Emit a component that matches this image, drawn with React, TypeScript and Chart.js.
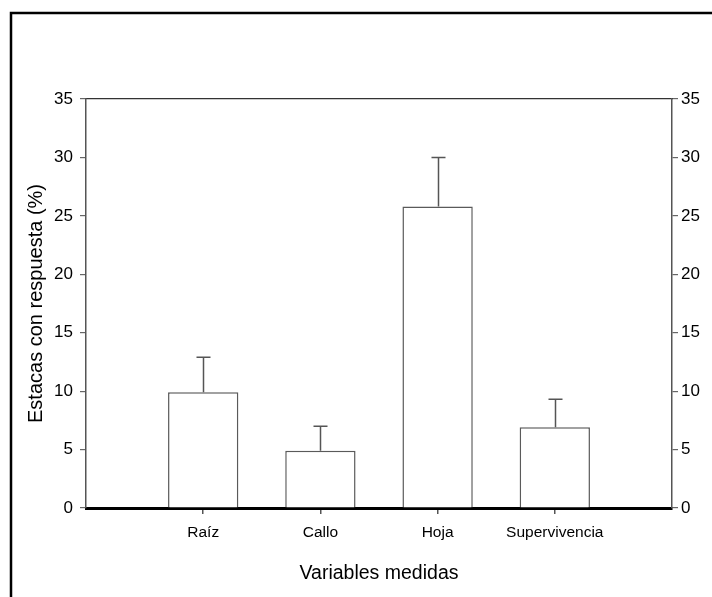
import React, { useEffect, useRef } from "react";
import { Chart, registerables } from "chart.js";

Chart.register(...registerables);

const categories = ["Raíz", "Callo", "Hoja", "Supervivencia"];
const values = [9.9, 4.9, 25.8, 6.9];
const errorTops = [12.9, 7.0, 30.0, 9.3];
const yTicks = [0, 5, 10, 15, 20, 25, 30, 35];
const yTitle = "Estacas con respuesta (%)";
const xTitle = "Variables medidas";

const FONT = "'Liberation Sans', Arial, Helvetica, sans-serif";

const frameAndErrors = {
  id: "frameAndErrors",
  beforeDraw(chart: any) {
    const ctx = chart.ctx;
    ctx.save();
    ctx.strokeStyle = "#000";
    ctx.lineWidth = 2.5;
    ctx.beginPath();
    ctx.moveTo(11, chart.height + 10);
    ctx.lineTo(11, 13);
    ctx.lineTo(chart.width + 10, 13);
    ctx.stroke();
    ctx.restore();
  },
  afterDatasetsDraw(chart: any) {
    const ctx = chart.ctx;
    const meta = chart.getDatasetMeta(0);
    const yScale = chart.scales.y;
    ctx.save();
    ctx.strokeStyle = "#555";
    ctx.lineWidth = 1.5;
    meta.data.forEach((bar: any, i: number) => {
      const x = Math.round(bar.x) + 0.5;
      const yTop = yScale.getPixelForValue(errorTops[i]);
      ctx.beginPath();
      ctx.moveTo(x, bar.y);
      ctx.lineTo(x, yTop);
      ctx.moveTo(x - 7, yTop);
      ctx.lineTo(x + 7, yTop);
      ctx.stroke();
    });
    ctx.restore();
  },
};

export default function App() {
  const ref = useRef<HTMLCanvasElement | null>(null);

  useEffect(() => {
    if (!ref.current) return;
    const yMin = yTicks[0];
    const yMax = yTicks[yTicks.length - 1];
    const step = yTicks[1] - yTicks[0];
    const tickFont = { family: FONT, size: 17 };
    const chart = new Chart(ref.current, {
      type: "bar",
      data: {
        datasets: [
          {
            data: values.map((v, i) => ({ x: i + 1, y: v })),
            backgroundColor: "#ffffff",
            borderColor: "#5a5a5a",
            borderWidth: 1.5,
            barPercentage: 0.75,
            categoryPercentage: 0.8,
          } as any,
        ],
      },
      options: {
        responsive: false,
        animation: false,
        events: [],
        layout: { padding: { top: 99, left: 0, right: 0, bottom: 0 } },
        plugins: { legend: { display: false }, tooltip: { enabled: false } },
        scales: {
          x: {
            type: "linear",
            position: "bottom",
            offset: false,
            min: 0,
            max: categories.length + 1,
            afterBuildTicks: (scale: any) => {
              scale.ticks = categories.map((_, i) => ({ value: i + 1 }));
            },
            afterFit: (scale: any) => {
              scale.height = 89;
            },
            ticks: {
              autoSkip: false,
              maxRotation: 0,
              padding: 9,
              color: "#000",
              font: { family: FONT, size: 15.5 },
              callback: (v: any) => categories[Number(v) - 1] ?? "",
            },
            grid: {
              offset: false,
              drawOnChartArea: false,
              drawTicks: true,
              tickLength: 6,
              color: "#555",
              lineWidth: 1.5,
            },
            border: { display: true, color: "#000", width: 3 },
            title: {
              display: true,
              text: xTitle,
              color: "#000",
              font: { family: FONT, size: 19.5 },
              padding: { top: 0, bottom: 12 },
            },
          },
          x2: {
            type: "linear",
            position: "top",
            offset: false,
            min: 0,
            max: categories.length + 1,
            afterFit: (scale: any) => {
              scale.height = 0;
            },
            ticks: { display: false },
            grid: { drawOnChartArea: false, drawTicks: false },
            border: { display: true, color: "#333", width: 1.2 },
          },
          y: {
            type: "linear",
            position: "left",
            min: yMin,
            max: yMax,
            afterFit: (scale: any) => {
              scale.width = 86;
            },
            ticks: {
              stepSize: step,
              padding: 7,
              color: "#000",
              font: tickFont,
            },
            grid: {
              drawOnChartArea: false,
              drawTicks: true,
              tickLength: 6,
              color: "#666",
              lineWidth: 1.2,
            },
            border: { display: true, color: "#555", width: 1.5 },
            title: {
              display: true,
              text: yTitle,
              color: "#000",
              font: { family: FONT, size: 20 },
              padding: { top: 24, bottom: 0 },
            },
          },
          y2: {
            type: "linear",
            position: "right",
            min: yMin,
            max: yMax,
            afterFit: (scale: any) => {
              scale.width = 40;
            },
            ticks: {
              stepSize: step,
              padding: 3,
              color: "#000",
              font: tickFont,
            },
            grid: {
              drawOnChartArea: false,
              drawTicks: true,
              tickLength: 6,
              color: "#666",
              lineWidth: 1.2,
            },
            border: { display: true, color: "#555", width: 1.5 },
          },
        },
      } as any,
      plugins: [frameAndErrors],
    });
    return () => chart.destroy();
  }, []);

  return (
    <canvas
      ref={ref}
      width={712}
      height={597}
      style={{ position: "fixed", left: 0, top: 0, width: 712, height: 597, background: "#fff" }}
    />
  );
}
